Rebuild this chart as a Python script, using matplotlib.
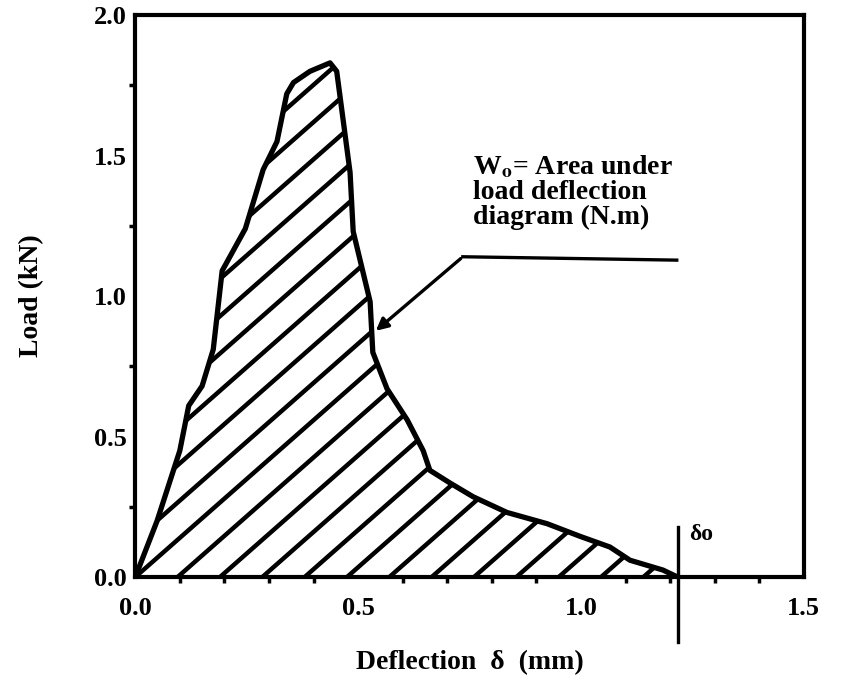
import numpy as np
import matplotlib
matplotlib.use("Agg")
import matplotlib.pyplot as plt
from matplotlib.patches import Polygon
from matplotlib.ticker import MultipleLocator

# ------------------------------
# DATA
# ------------------------------
deflection = [0.0, 0.049, 0.10, 0.12, 0.15, 0.175, 0.195, 0.247, 0.287, 0.318,
              0.34, 0.355, 0.392, 0.437, 0.452, 0.482, 0.489, 0.527, 0.533,
              0.565, 0.61, 0.646, 0.661, 0.706, 0.758, 0.834, 0.924, 0.998,
              1.065, 1.11, 1.184, 1.217]
load = [0.0, 0.20, 0.45, 0.61, 0.68, 0.81, 1.09, 1.24, 1.45, 1.55,
        1.72, 1.76, 1.80, 1.83, 1.80, 1.44, 1.23, 0.98, 0.80,
        0.67, 0.56, 0.45, 0.38, 0.335, 0.286, 0.23, 0.19, 0.145,
        0.107, 0.06, 0.025, 0.0]

delta_o = 1.217
x_ticks = [0.0, 0.5, 1.0, 1.5]
y_ticks = [0.0, 0.5, 1.0, 1.5, 2.0]
note = "W$_{\\mathbf{o}}$= Area under\nload deflection\ndiagram (N.m)"

plt.rcParams["font.family"] = ["Liberation Serif", "DejaVu Serif"]
plt.rcParams["font.weight"] = "bold"
plt.rcParams["axes.labelweight"] = "bold"
plt.rcParams["mathtext.fontset"] = "stix"

fig = plt.figure(figsize=(8.56, 6.87), dpi=100)
ax = fig.add_axes([0.158, 0.160, 0.781, 0.818])
ax.set_xlim(0, 1.5)
ax.set_ylim(0, 2.0)

# outline of the load-deflection curve
ax.plot(deflection, load, color="black", lw=3.8, solid_joinstyle="round",
        solid_capstyle="round", zorder=4)

# hatched area under the curve (lines clipped to the polygon)
poly = Polygon(np.column_stack([deflection, load]), closed=True,
               facecolor="none", edgecolor="none")
ax.add_patch(poly)
ax_w = ax.get_position().width * fig.get_figwidth() * fig.dpi
ax_h = ax.get_position().height * fig.get_figheight() * fig.dpi
slope = 0.88 * (ax_w / 1.5) / (ax_h / 2.0)
for x0 in np.arange(-1.52, 1.3, 0.095):
    ln, = ax.plot([x0, x0 + 2.0 / slope], [0, 2.0], color="black", lw=3.2,
                  zorder=3)
    ln.set_clip_path(poly)

# delta_o marker
ax.plot([delta_o, delta_o], [-0.23, 0.18], color="black", lw=2.4,
        clip_on=False, zorder=5)
ax.text(delta_o + 0.025, 0.15, "δo", fontsize=17, ha="left", va="center")

# annotation with leader line
ax.plot([0.735, 1.215], [1.14, 1.128], color="black", lw=2.4)
ax.annotate("", xy=(0.535, 0.87), xytext=(0.735, 1.14),
            arrowprops=dict(arrowstyle="-|>", color="black", lw=2.4,
                            mutation_scale=18))
ax.text(0.757, 1.51, note, fontsize=20, ha="left", va="top", linespacing=1.0)

# axes styling
for s in ax.spines.values():
    s.set_linewidth(3.0)
ax.set_xticks(x_ticks)
ax.set_yticks(y_ticks)
ax.set_xticklabels([f"{v:.1f}" for v in x_ticks])
ax.set_yticklabels([f"{v:.1f}" for v in y_ticks])
ax.xaxis.set_minor_locator(MultipleLocator(0.1))
ax.yaxis.set_minor_locator(MultipleLocator(0.25))
ax.tick_params(which="major", length=0, labelsize=19)
ax.tick_params(axis="x", which="major", pad=14)
ax.tick_params(axis="y", which="major", pad=6)
ax.tick_params(which="minor", length=4, width=2.5, direction="out")
ax.set_xlabel("Deflection  δ  (mm)", fontsize=20, labelpad=22)
ax.set_ylabel("Load (kN)", fontsize=20, labelpad=36)

fig.savefig("out.png", dpi=100)
